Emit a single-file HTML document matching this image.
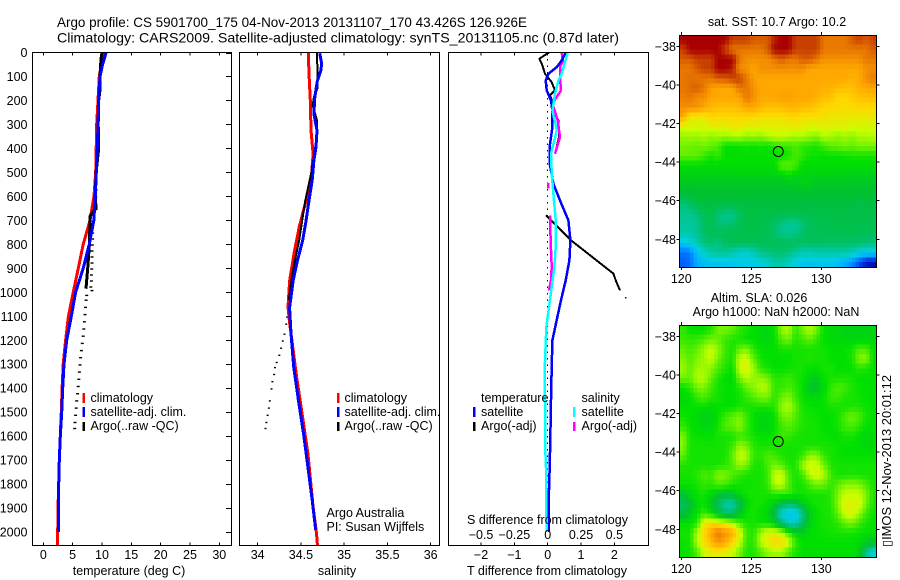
<!DOCTYPE html>
<html>
<head>
<meta charset="utf-8">
<title>Argo profile</title>
<style>
html,body{margin:0;padding:0;background:#fff;}
#chart{display:block;position:absolute;left:0;top:0;}
text{font-family:"Liberation Sans",Arial,sans-serif;font-size:12.5px;fill:#000;}
.title{font-size:14px;}
</style>
</head>
<body>
<svg id="chart" width="900" height="580" viewBox="0 0 900 580" xmlns="http://www.w3.org/2000/svg">
<rect x="0" y="0" width="900" height="580" fill="#fff"/>
<text class="title" x="57" y="27" textLength="470" lengthAdjust="spacingAndGlyphs">Argo profile: CS 5901700_175 04-Nov-2013 20131107_170 43.426S 126.926E</text>
<text class="title" x="57" y="42.5" textLength="562" lengthAdjust="spacingAndGlyphs">Climatology: CARS2009. Satellite-adjusted climatology: synTS_20131105.nc (0.87d later)</text>

<g id="layer-maps"></g>
<g id="layer-lines"></g>
<g id="layer-axes"></g>

<text x="129" y="575" text-anchor="middle">temperature (deg C)</text>
<text x="337" y="575" text-anchor="middle">salinity</text>
<text x="547" y="575" text-anchor="middle">T difference from climatology</text>
<text x="547.5" y="524" text-anchor="middle">S difference from climatology</text>

<g>
<rect x="82.5" y="393" width="2.5" height="10" fill="#f00"/>
<rect x="82.5" y="407" width="2.5" height="10" fill="#00f"/>
<rect x="82.5" y="422" width="2.5" height="9" fill="#000"/>
<text x="90.5" y="402">climatology</text>
<text x="90.5" y="416">satellite-adj. clim.</text>
<text x="90.5" y="430">Argo(..raw -QC)</text>
</g>
<g>
<rect x="337" y="393" width="2.5" height="10" fill="#f00"/>
<rect x="337" y="407" width="2.5" height="10" fill="#00f"/>
<rect x="337" y="422" width="2.5" height="9" fill="#000"/>
<text x="344.5" y="402">climatology</text>
<text x="344.5" y="416">satellite-adj. clim.</text>
<text x="344.5" y="430">Argo(..raw -QC)</text>
<text x="326.5" y="517">Argo Australia</text>
<text x="326.5" y="531">PI: Susan Wijffels</text>
</g>
<g>
<rect x="473" y="407" width="2.5" height="10" fill="#00f"/>
<rect x="473" y="422" width="2.5" height="9" fill="#000"/>
<rect x="573" y="407" width="2.5" height="10" fill="#0ff"/>
<rect x="573" y="422" width="2.5" height="9" fill="#f0f"/>
<text x="481" y="402">temperature</text>
<text x="481" y="416">satellite</text>
<text x="481" y="430">Argo(-adj)</text>
<text x="581.5" y="402">salinity</text>
<text x="581.5" y="416">satellite</text>
<text x="581.5" y="430">Argo(-adj)</text>
</g>

<text x="777" y="26" text-anchor="middle">sat. SST: 10.7 Argo: 10.2</text>
<text x="759" y="302" text-anchor="middle">Altim. SLA: 0.026</text>
<text x="776" y="316" text-anchor="middle">Argo h1000: NaN h2000: NaN</text>
<text transform="translate(891,547) rotate(-90)" textLength="172" lengthAdjust="spacingAndGlyphs">&#9647;IMOS 12-Nov-2013 20:01:12</text>
</svg>

<script>
// ---------- Tick labels ----------
const depthTicks = [0,100,200,300,400,500,600,700,800,900,1000,1100,1200,1300,1400,1500,1600,1700,1800,1900,2000];
const tempTicks = [0,5,10,15,20,25,30];
const salTicks = [34,34.5,35,35.5,36];
const salTickLabels = ['34','34.5','35','35.5','36'];
const tDiffTicks = [-2,-1,0,1,2];
const tDiffTickLabels = ['\u22122','\u22121','0','1','2'];
const sDiffTicks = [-0.5,-0.25,0,0.25,0.5];
const sDiffTickLabels = ['\u22120.5','\u22120.25','0','0.25','0.5'];
const lonTicks = [120,125,130];
const latTicks = [-38,-40,-42,-44,-46,-48];

// ---------- Temperature panel ----------
const tempClimDepth = [0,100,300,500,600,700,800,900,1000,1100,1200,1300,1400,1500,1600,1700,1800,1900,2000,2054];
const tempClimValue = [10.2,9.55,9.1,8.93,8.64,7.96,6.8,5.97,5.1,4.27,3.8,3.4,3.2,3.07,2.9,2.73,2.62,2.5,2.45,2.4];
const tempSatDepth = [0,50,100,200,300,400,500,600,700,800,900,1000,1100,1200,1300,1400,1500,1600,1700,1800,1900,2000];
const tempSatValue = [10.7,10.1,9.66,9.44,9.32,9.2,9.03,8.87,8.6,7.84,6.8,5.5,4.77,3.98,3.53,3.3,3.13,2.9,2.73,2.62,2.56,2.56];
const tempArgoDepth = [0,25,100,150,200,300,400,500,600,650,680,800,900,985];
const tempArgoValue = [10.0,9.83,9.66,9.7,9.44,9.35,9.45,9.0,8.85,9.0,8.0,7.85,7.56,7.28];
const tempRawDepth = [540,570,600,630,650,700,725,750,775,800,825,850,875,900,925,950,975,990,1010,1030,1060,1090,1120,1150,1180,1210,1240,1270,1300,1330,1360,1390,1420,1450,1480,1510,1540,1565];
const tempRawValue = [9.0,9.0,8.95,8.9,9.0,8.5,8.4,8.4,8.4,8.35,8.3,8.3,8.3,8.25,8.2,8.2,8.1,8.3,7.4,7.3,7.2,7.1,7.0,6.9,6.8,6.65,6.5,6.35,6.25,6.15,6.05,5.95,5.85,5.7,5.6,5.5,5.4,5.35];

// ---------- Salinity panel ----------
const salClimDepth = [0,89,200,325,422,505,617,728,839,950,1061,1130,1242,1353,1450,1561,1672,1783,1895,2005,2054];
const salClimValue = [34.585,34.593,34.608,34.616,34.64,34.624,34.56,34.48,34.42,34.37,34.35,34.37,34.41,34.45,34.49,34.535,34.58,34.61,34.64,34.68,34.69];
const salSatDepth = [3,47,75,117,186,256,325,394,450,533,617,700,783,867,950,1061,1075,1172,1311,1450,1589,1728,1867,1991];
const salSatValue = [34.717,34.74,34.73,34.69,34.66,34.65,34.686,34.674,34.65,34.63,34.593,34.56,34.52,34.46,34.41,34.37,34.37,34.385,34.416,34.47,34.53,34.58,34.63,34.67];
const salArgoDepth = [3,75,151,186,221,283,339,505,617,700,783,867,950,1033];
const salArgoValue = [34.686,34.69,34.69,34.65,34.636,34.686,34.69,34.617,34.55,34.515,34.48,34.43,34.39,34.36];
const salRawDepth = [1040,1070,1100,1130,1172,1200,1230,1260,1290,1311,1340,1370,1400,1450,1480,1510,1540,1565];
const salRawValue = [34.36,34.35,34.34,34.33,34.31,34.29,34.27,34.25,34.22,34.2,34.19,34.17,34.16,34.14,34.13,34.115,34.1,34.09];

// ---------- Difference panel (null breaks the line) ----------
const dTSatDepth = [0,33,61,89,117,158,200,242,311,381,464,547,617,700,783,867,950,1033,1116,1200,1311,1450,1589,1728,1867,2000];
const dTSatValue = [0.54,0.42,0.27,0.02,-0.06,-0.03,0.1,0.14,0.14,0.07,0.06,0.17,0.37,0.62,0.68,0.65,0.54,0.40,0.27,0.14,0.12,0.10,0.08,0.06,0.03,0.04];
const dSSatDepth = [0,89,117,172,242,325,422,505,589,700,811,894,978,1061,1144,1214,1311,1450,1630,1769,1894,2000];
const dSSatValue = [0.15,0.105,0.08,0.055,0.035,0.068,0.025,0.03,0.043,0.06,0.06,0.05,0.03,0.01,-0.01,-0.015,-0.022,-0.02,-0.02,-0.01,-0.012,-0.005];
const dTArgoDepth = [0,26,54,89,124,158,179,214,242,283,353,422,550,679,783,922,950,992];
const dTArgoValue = [0.04,-0.25,-0.16,-0.08,0.12,0.22,0.07,0.17,0.17,0.32,0.34,0.22,null,-0.05,0.70,1.97,2.04,2.17];
const dTArgoDotDepth = [1020];
const dTArgoDotValue = [2.34];
const dSArgoDepth = [0,33,61,103,158,213,283,353,422,480,545,568,620,679,783,894,950,992];
const dSArgoValue = [0.105,0.115,0.092,0.092,0.10,0.035,0.075,0.092,0.055,null,0.005,0.005,null,0.018,0.022,0.03,0.025,0.01];
const zeroLineDepth = [0,2000];

// ---------- Map grids (colour index, north to south, 120E to 134E) ----------
const sstGrid = [
[15,15,15,15,15,15,15,14,14,14,13.5,13.5,13.5,14.5,15,15,14,14,14,14,13,13,13,13,13.5,14,13.5,14],
[14,15,15,15,15,15,14,13,13,13,13,13,13.5,15,15,15,14,14,14,14,13,13,13,13,13,13,13,13.5],
[13.5,13.5,14,14,14,15,15,15,13,12.5,12.5,12.5,12.5,13,13.5,13,13,13.5,13.5,13,12.5,12.5,12.5,12.5,12.5,12.5,13,13],
[13,13,13.5,14,14,15,15,14.5,12.5,12.5,12,12.5,12.5,12.5,12.5,12.5,12.5,12.5,12,12,12,12,12,12,12,12,12.5,12.5],
[13,13.2,13,13,13,13.5,13.5,14,14,13,12.2,12,12,12,12,12,12,12,12,12,12,12,12,12,11.8,12,12.5,13],
[13,13.2,13.5,13,12.2,12,12,12,13,13,12.5,12,12,12,12,12,12,12,12,12,11.8,11.8,11.5,11.5,11.5,11.8,12,12],
[12.8,13,12.5,12.5,12,12,12,12,12,13,12.5,12,12,12,12.2,12.2,12,12,12,11.8,11.5,11.5,11,11,11.2,11.5,11.5,11.5],
[12.5,12.5,12.5,12,11.7,11.5,11.5,11.5,11.7,12,12,11.7,11.5,11.5,11.5,11.7,11.7,11.5,11.5,11.3,11,11,11,10.8,11,11,11,11],
[12,10.6,10.6,10.6,11,11,11,11,11,11,11,10.8,10.8,10.8,10.8,11,11,10.8,10.8,10.8,10.8,10.6,10.6,10.6,10.6,10.6,10.6,10.6],
[10.2,10.2,10.2,10.2,10.4,10.4,10.4,10.6,10.6,10.4,10.4,10.4,10.4,10.4,10.4,10.4,10.6,10.4,10.2,10.2,10.4,10.4,10.3,10.4,10.2,10.2,10.2,10.2],
[9.5,9.6,9.5,9.7,9.4,9.6,9.5,9.7,9.8,9.4,9.6,9.4,9.8,10,10,9.8,9.6,9.8,9.5,9.3,9.8,9.6,9.4,9.6,9.4,9.7,9.7,9.8],
[9.2,9.1,9,9.2,9,8.8,8,8,8,8.2,8,8.2,8,8.3,8.5,8.5,8.8,8.4,8.4,8.2,8.6,9,9,9.2,9,9.2,9.2,9.2],
[9,9,9,8.6,8.2,8.5,8,8,8,8,8,8,8,8,8,8.2,8.7,8.5,8.1,8.1,8,8,8,8.1,8.2,8.2,8.2,8.2],
[7.9,7.9,7.9,7.9,7.9,7.9,7.9,7.9,7.9,7.9,7.9,7.9,7.9,7.9,9,9,8.7,7.9,7.9,7.9,7.9,7.9,7.9,7.9,7.9,7.9,7.9,7.9],
[7.6,7.6,7.6,7.6,7.6,7.6,7.6,7.6,7.6,7.6,7.6,7.6,7.6,7.6,7.6,8,7.7,7.6,7.6,7.6,7.6,7.6,7.6,7.6,7.5,7.5,7.5,7.5],
[7.2,7.2,7.2,7.2,7.2,7.2,7.2,7.2,7.2,7.2,7.2,7.2,7.2,7.2,7.2,7.2,7.3,7.5,7.5,7.2,7.2,7.2,7.2,7.2,7.2,7.2,7.2,7.2],
[6.8,6.8,7,7,7,7,7,7,7,7,7,7,7,7,7,7,7,7,7,7,7,7,7,7,7,7,7,7],
[5.6,6,6.5,6.7,6.7,6.7,6.5,6.5,6.7,6.7,6.7,6.7,6.7,6.7,6.7,6.7,6.7,6.7,6.7,6.7,6.7,6.7,6.7,6.7,6.7,6.4,6.7,6.7],
[5.3,5.3,5.6,6.2,6.5,5.8,5.4,5.4,6,6.6,6.6,6.6,6.5,6.5,6.5,6.5,6.5,6.5,6.5,6.5,6.5,6.5,6.5,6.5,6.5,6.5,6.5,6.5],
[5.2,5.2,5.4,6,6.3,5.7,5.6,5.8,6.2,6.5,6.5,6.5,6.3,6,5.5,5.2,5.2,5.6,6.1,6.3,6.3,6.4,6.5,6.5,6.5,6.5,6.4,6.4],
[5,5,5.3,6,6.3,6.3,6.4,6.4,6.4,6.4,6.4,6.4,6.2,5.8,5.4,5.3,5.5,6,6.2,6.2,6.3,6.3,6.3,6.3,6.3,6.2,6.2,6.2],
[3.6,4,4.8,5.6,5.8,5.4,6,6.2,6.2,6.2,6.2,6.2,6.2,6.2,6.2,6.1,6.1,6,6,6,5.9,5.9,5.9,5.9,5.9,5.8,5.8,5.6],
[2,2.2,3.5,4.4,5,5.4,5.2,5,4.4,4.4,4.8,5.4,5.5,5.8,5.8,5.6,5.2,4.8,4.8,5,5,5,5,5,4.8,4.2,3.8,3.8],
[1.7,2,3,3.4,3.6,3.6,3.6,3.6,3.8,3.8,3.8,4.2,4.4,5,5,4.5,4,3.6,3.6,3.6,3.6,3.6,3.4,3,2.4,1.5,0.6,0.4]
];
const slaGrid = [
[8.5,8,8,8,8.3,9.2,9.2,9,8.5,8.2,8,7.8,7.7,8,9.5,9.8,8.5,9.2,9.8,9.2,8,7.8,7.8,7.6,7.6,7.6,7.6,7.6],
[8.6,8.5,8.5,8.8,9.2,9,8.6,8.3,8.2,8,8,7.8,7.7,8,8.8,9.2,8.3,8.6,9,8.5,8,7.8,7.8,7.7,7.7,7.7,7.7,7.7],
[9,8.7,9,9.6,10,9.5,8.6,8.2,9,9.3,8.4,8,8,8,8.2,8.2,8.2,8.2,8.2,8.2,8.2,8,8,8,8.2,8.8,8.8,8],
[9.3,8.9,9.3,9.6,10,9.2,8.5,8.2,10,10.2,9,8.2,8,8,8,8,8.2,8.2,8.3,8.2,8.2,8,8,8,8.2,9.3,9.5,8],
[9.6,9,9.6,9.6,9.4,8.8,8.3,8,10,10.5,9.6,8.5,8.2,8,8,8.1,8.2,8.2,8,8,8.2,8.2,8,8,8,8.4,8.2,8],
[9.2,9,9.8,9.8,9,8.3,8,7.8,9.2,9.8,9.5,9.5,9.2,8.4,8.4,8.6,8.3,8.1,7.6,7.4,8,8.2,8.2,8.3,8.2,8,8,8],
[8,8.4,9.2,9.3,8.6,8.2,8,8,8.3,9,9.4,9.8,9.7,8.5,8.5,8.8,8.4,8,7.2,7,7.8,8.5,8.8,8.6,8.3,8.1,8,8],
[7.8,8,8.5,8.8,8.4,8.2,8,8,8.1,8.5,8.8,9.2,9.2,8.4,9,9.4,8.6,8.1,7.8,7.8,8,8.6,8.6,8.3,8.2,8.1,8,8],
[8,8,8,8,7.8,8,8,8,8.3,8.2,8.2,8.2,8.2,8.3,9.5,9.8,9,8.2,8.1,8,8,8.2,8.2,8.2,8.3,8.3,8.1,8],
[8.2,8,7.8,7.6,7.5,8,8.6,9,9.3,8.6,8,7.7,7.7,8,9,9.3,8.8,8.3,8.2,8.1,8,8,8.2,8.8,9.2,8.8,8.2,8],
[8.5,8.1,7.9,7.7,7.7,8.2,8.8,9,9.4,8.6,8,7.7,7.7,8,8.6,8.9,8.6,8.3,8.2,8.2,8,8,8.2,8.6,8.7,8.4,8,8],
[9.3,8.2,8.1,8,8,8.2,8.2,8.2,8.6,8.4,8.2,8,8,8.2,8.6,8.5,8.3,8.2,8.2,8.2,8.1,8,8,8.2,8.2,8,7.7,7.8],
[9.4,8.2,8.2,8.2,8.2,8.2,8.2,8.6,9.5,9.2,8.4,8.2,8.2,8.2,8.2,8.2,8.2,8.2,8.2,8.2,8.2,8.2,8.1,8,8,7.9,7.7,7.9],
[9,8.2,8.2,8.2,8.2,8.2,8.2,9,10,9.8,8.5,8.4,8.8,8.6,8.3,8.2,8.2,8.5,9.4,9.4,8.5,8.2,8.1,8,8,8,8,8],
[8.3,8.2,8.2,8.2,8.2,8.2,8.4,8.8,9.6,9.2,8.3,8.2,8.7,9.2,8.9,8.3,8.3,9.6,10.2,10.2,9.2,8.3,8.2,8.2,8.2,8.2,8.2,8.2],
[8.2,8.2,8.4,8.8,8.6,9.4,9.3,8.8,8.4,8.2,8.2,8.2,8.5,10,10.2,8.8,8.2,8.6,9.8,10.3,9.8,8.6,8.2,8.2,8.3,8.2,8.2,8.2],
[8.1,8.1,8.2,8.5,8.4,8.8,8.7,8.3,8.2,8.1,8.2,8.2,8.5,9.8,10,8.8,8.2,8.2,8.7,9.2,9.1,8.5,8.9,9.4,9.4,9.3,8.8,8.2],
[7,7.6,8.1,8.2,7.8,7.3,7,7.2,7.8,8.2,8.2,8.2,8.2,8.4,8.5,8.6,8.2,8.2,8.2,8.2,8.2,8.4,9.3,10,10,10,9.3,8.3],
[6,6.8,7.8,8.1,7.2,6.2,4.8,4.8,6.2,7.8,8.2,8.2,8,7.5,6.6,6,6.4,7.4,8,8.2,8.2,8.4,9.4,10.4,10.4,10.3,9.2,8.2],
[6.4,7.4,8,8.6,8,7,6,6,7.2,8.1,8.2,8,7.6,6.4,4.2,3.2,3.6,5.2,7.4,8,8.2,8.3,9,10.2,10.3,9.6,8.6,8.1],
[8,8,8.4,10.6,11,10.8,10.5,9.8,8.8,8.2,8.2,8.1,8,7.4,6,4.6,4.6,6,7.6,8,8.2,8.2,8.4,9,9.2,8.6,8.2,8],
[8.2,8.2,9.8,11,12,13,12.4,12,10.5,8.6,8.4,9.6,10.4,10.5,10,8.6,7.8,7.6,7.9,8,8.1,8.2,8.2,8.2,8.2,8.1,8,8],
[8.1,8.2,9.8,10.8,11.6,12.4,12,11,10,8.5,8.4,9.8,10.5,11,11,10.2,8.5,8,8,8,8,8,8,8,8,7.8,7.4,7],
[8,8.1,8.8,10,10.6,10.6,10.4,10,9.2,8.3,8.3,8.8,9.4,9.6,9.6,8.8,8.2,8,8,8,8,8,8,8,8,7.6,5.5,4]
];
const floatLon = 126.926;
const floatLat = -43.426;

// ---------- Scales ----------
const NS = 'http://www.w3.org/2000/svg';
const Y0 = 52.5, Y1 = 545.5;
function yDepth(d){ return 52.5 + d * 0.2398; }
function xTemp(v){ return 43.3 + v * 5.867; }
function xSal(v){ return 257.7 + (v - 34) * 86.5; }
function xTDiff(v){ return 547.7 + v * 33.33; }
function xSDiff(v){ return 547.7 + v * 133.32; }
function xLon(v){ return 681.3 + (v - 120) * 14; }
function yLat(v, top){ return top + 11.3 + (-38 - v) * 19.3; }

const lines = document.getElementById('layer-lines');
const axes = document.getElementById('layer-axes');
const maps = document.getElementById('layer-maps');

function make(tag, parent, props){
  const el = document.createElementNS(NS, tag);
  for (const k in props) el.setAttribute(k, props[k]);
  parent.appendChild(el);
  return el;
}
function drawProfile(name, depths, values, xFn, color, width){
  let pts = [];
  const flush = function(){
    if (pts.length > 1) {
      const el = make('polyline', lines, {points: pts.join(' '), fill: 'none', stroke: color, 'stroke-width': width, 'shape-rendering': 'crispEdges', 'stroke-linejoin': 'round'});
      
      
    }
    pts = [];
  };
  depths.forEach(function(d, i){
    if (values[i] === null) { flush(); return; }
    pts.push(xFn(values[i]).toFixed(1) + ',' + yDepth(d).toFixed(1));
  });
  flush();
}
function drawDots(name, depths, values, xFn, w){
  depths.forEach(function(d, i){
    const el = make('rect', lines, {x: (xFn(values[i]) - w / 2).toFixed(1), y: yDepth(d).toFixed(1), width: w, height: 1.4, fill: '#000'});
    
    
  });
}
function axisLine(x1, y1, x2, y2){
  const el = make('line', axes, {x1: x1, y1: y1, x2: x2, y2: y2, stroke: '#000', 'stroke-width': 1, 'shape-rendering': 'crispEdges'});
  
  
}
function axisLabel(x, y, label, anchor){
  const el = make('text', axes, {x: x, y: y, 'text-anchor': anchor});
  el.textContent = label;
  
  
}
function panelFrame(x, y, w, h){
  const el = make('rect', axes, {x: x, y: y, width: w, height: h, fill: 'none', stroke: '#000', 'stroke-width': 1, 'shape-rendering': 'crispEdges'});
  
  
}

// ---------- Profile panels ----------
drawDots('temperature-argo-raw-dot', tempRawDepth, tempRawValue, xTemp, 3);
drawProfile('temperature-climatology-line', tempClimDepth, tempClimValue, xTemp, '#f00', 3);
drawProfile('temperature-argo-line', tempArgoDepth, tempArgoValue, xTemp, '#000', 3);
drawProfile('temperature-satellite-line', tempSatDepth, tempSatValue, xTemp, '#00f', 3);

drawDots('salinity-argo-raw-dot', salRawDepth, salRawValue, xSal, 2);
drawProfile('salinity-climatology-line', salClimDepth, salClimValue, xSal, '#f00', 3);
drawProfile('salinity-argo-line', salArgoDepth, salArgoValue, xSal, '#000', 2);
drawProfile('salinity-satellite-line', salSatDepth, salSatValue, xSal, '#00f', 3);

const zeroEl = make('line', lines, {x1: xTDiff(0), x2: xTDiff(0), y1: yDepth(zeroLineDepth[0]), y2: yDepth(zeroLineDepth[1]), stroke: '#000', 'stroke-width': 1, 'stroke-dasharray': '1.5 5', 'shape-rendering': 'crispEdges'});


drawProfile('t-difference-argo-line', dTArgoDepth, dTArgoValue, xTDiff, '#000', 2);
drawDots('t-difference-argo-raw-dot', dTArgoDotDepth, dTArgoDotValue, xTDiff, 1.5);
drawProfile('s-difference-argo-line', dSArgoDepth, dSArgoValue, xSDiff, '#f0f', 2.5);
drawProfile('t-difference-satellite-line', dTSatDepth, dTSatValue, xTDiff, '#00f', 2.5);
drawProfile('s-difference-satellite-line', dSSatDepth, dSSatValue, xSDiff, '#0ff', 2.5);

// ---------- Profile axes ----------
panelFrame(32.5, Y0, 199, 493);
panelFrame(239.5, Y0, 200, 493);
panelFrame(448.5, Y0, 200, 493);
depthTicks.forEach(function(d){
  axisLine(226, Math.round(yDepth(d)) + 0.5, 231.5, Math.round(yDepth(d)) + 0.5);
  axisLabel(27.5, yDepth(d) + 4.5, String(d), 'end');
});
tempTicks.forEach(function(v){
  axisLine(xTemp(v), Y0, xTemp(v), Y0 + 3);
  axisLine(xTemp(v), Y1 - 3, xTemp(v), Y1);
  axisLabel(xTemp(v), 559, String(v), 'middle');
});
salTicks.forEach(function(v, i){
  axisLine(xSal(v), Y0, xSal(v), Y0 + 3);
  axisLine(xSal(v), Y1 - 3, xSal(v), Y1);
  axisLabel(xSal(v), 559, salTickLabels[i], 'middle');
});
tDiffTicks.forEach(function(v, i){
  axisLine(xTDiff(v), Y0, xTDiff(v), Y0 + 3);
  axisLine(xTDiff(v), Y1 - 3, xTDiff(v), Y1);
  axisLabel(xTDiff(v), 559, tDiffTickLabels[i], 'middle');
});
sDiffTicks.forEach(function(v, i){
  axisLabel(xSDiff(v), 539, sDiffTickLabels[i], 'middle');
});

// ---------- Maps ----------
const paletteStops = ['#000090','#0030e0','#0070ff','#00b0ff','#00d0e0','#00c8a8','#00c060','#00c030','#00e000','#60f000','#c8ff00','#ffd800','#ffa800','#e87800','#c84000','#a80000'];
function hexToRgb(h){ return [parseInt(h.slice(1,3),16), parseInt(h.slice(3,5),16), parseInt(h.slice(5,7),16)]; }
function colorOf(v){
  const c = Math.max(0, Math.min(paletteStops.length - 1.001, v));
  const i = Math.floor(c), f = c - i;
  const a = hexToRgb(paletteStops[i]), b = hexToRgb(paletteStops[i + 1]);
  return 'rgb(' + a.map(function(x, k){ return Math.round(x + (b[k] - x) * f); }).join(',') + ')';
}
// Each grid value is shaded bilinearly at 2x so the map reads as smooth as the source raster.
function sampleGrid(grid, u, v){
  const rows = grid.length, cols = grid[0].length;
  const cu = Math.max(0, Math.min(cols - 1, u)), cv = Math.max(0, Math.min(rows - 1, v));
  const c0 = Math.floor(cu), r0 = Math.floor(cv);
  const c1 = Math.min(cols - 1, c0 + 1), r1 = Math.min(rows - 1, r0 + 1);
  const fu = cu - c0, fv = cv - r0;
  const top = grid[r0][c0] * (1 - fu) + grid[r0][c1] * fu;
  const bot = grid[r1][c0] * (1 - fu) + grid[r1][c1] * fu;
  return top * (1 - fv) + bot * fv;
}
function drawMap(grid, top, cellName, circleName){
  const left = 679.5, w = 197, h = 232, sub = 2;
  const nc = grid[0].length * sub, nr = grid.length * sub;
  const cw = w / nc, ch = h / nr;
  for (let r = 0; r < nr; r++) {
    for (let c = 0; c < nc; c++) {
      const val = sampleGrid(grid, (c + 0.5) / sub - 0.5, (r + 0.5) / sub - 0.5);
      const el = make('rect', maps, {x: (left + c * cw).toFixed(2), y: (top + r * ch).toFixed(2), width: (cw + 0.4).toFixed(2), height: (ch + 0.4).toFixed(2), fill: colorOf(val), 'shape-rendering': 'crispEdges'});
      
      
    }
  }
  panelFrame(left, top + 0.5, w, h);
  lonTicks.forEach(function(v){
    axisLine(xLon(v), top - 3, xLon(v), top);
    axisLine(xLon(v), top + h, xLon(v), top + h + 3);
    axisLabel(xLon(v), top + h + 16, String(v), 'middle');
  });
  latTicks.forEach(function(v){
    const y = yLat(v, top);
    axisLine(676.5, y, 679.5, y);
    axisLine(left + w, y, left + w + 3, y);
    axisLabel(676, y + 4.5, '\u2212' + Math.abs(v), 'end');
  });
  const circle = make('circle', axes, {cx: xLon(floatLon), cy: yLat(floatLat, top) + 0.5, r: 5, fill: 'none', stroke: '#000', 'stroke-width': 1});
  
  
}
drawMap(sstGrid, 35, 'sst-map-cell', 'sst-float-position-marker');
drawMap(slaGrid, 325, 'sla-map-cell', 'sla-float-position-marker');
</script>
</body>
</html>
